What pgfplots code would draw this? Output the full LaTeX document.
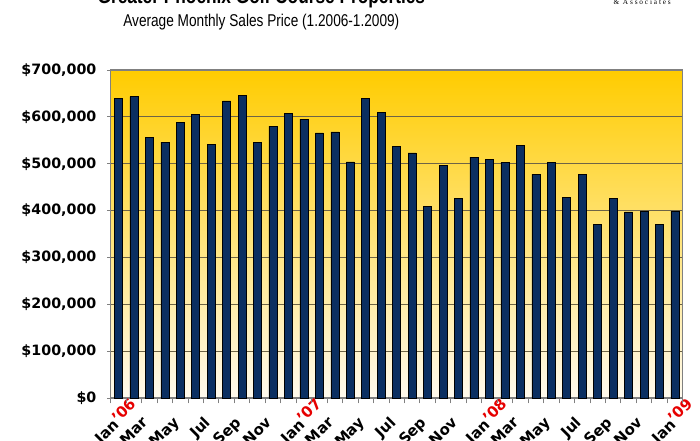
\documentclass[border=0pt]{standalone}
\usepackage{fontspec}
\setmainfont{DejaVu Sans}
\newfontfamily\narrowfont[FakeStretch=0.8]{Liberation Sans}
\newfontfamily\logofont[LetterSpace=25]{Liberation Serif}
\usepackage{pgfplots}
\usepackage{pgfplotstable}
\pgfplotsset{compat=1.18}
\definecolor{barnavy}{RGB}{11,47,97}
\definecolor{bgtop}{RGB}{255,204,0}
\definecolor{bgbot}{RGB}{255,250,238}
\definecolor{gridc}{RGB}{110,100,70}
\definecolor{axisgray}{RGB}{128,128,128}
\definecolor{yrred}{RGB}{230,0,0}

\pgfplotstableread{
x y
0 640000
1 643000
2 557000
3 546000
4 588000
5 605000
6 541000
7 634000
8 646000
9 546000
10 580000
11 608000
12 595000
13 566000
14 568000
15 504000
16 639000
17 610000
18 537000
19 523000
20 409000
21 496000
22 426000
23 514000
24 510000
25 503000
26 539000
27 477000
28 503000
29 428000
30 477000
31 371000
32 426000
33 397000
34 399000
35 371000
36 399000
}\pricedata

\newcommand{\yr}[1]{\rlap{\textcolor{yrred}{\raisebox{0.35ex}{'#1}}}}

\begin{document}
\begin{tikzpicture}[x=1pt,y=1pt]
\useasboundingbox (0,0) rectangle (525,330);
\begin{axis}[
  at={(83pt,31.5pt)}, anchor=south west,
  scale only axis, width=429pt, height=246pt,
  xmin=-0.5, xmax=36.5, ymin=0, ymax=700000,
  ytick={0,100000,200000,300000,400000,500000,600000,700000},
  yticklabels={{\$0},{\$100,000},{\$200,000},{\$300,000},{\$400,000},{\$500,000},{\$600,000},{\$700,000}},
  scaled y ticks=false,
  ymajorgrids,
  major grid style={gridc, line width=0.6pt},
  axis background/.style={shade, top color=bgtop, bottom color=bgbot},
  axis line style={axisgray, line width=0.8pt},
  tick style={axisgray, line width=0.6pt},
  tick align=outside,
  tick pos=left,
  major tick length=2.5pt,
  xtick={0,2,...,36},
  xticklabels={Jan\yr{06},Mar,May,Jul,Sep,Nov,Jan\yr{07},Mar,May,Jul,Sep,Nov,Jan\yr{08},Mar,May,Jul,Sep,Nov,Jan\yr{09}},
  xtick style={draw=none},
  extra x ticks={-0.5,0.5,...,36.5},
  extra x tick labels={},
  extra x tick style={grid=none, major tick length=4pt, xtick style={draw=axisgray, line width=0.6pt}},
  yticklabel style={font=\bfseries\fontsize{10.7}{12}\selectfont, inner sep=0pt, xshift=-8pt},
  xticklabel style={font=\bfseries\fontsize{11.2}{13}\selectfont, xshift=-6pt, yshift=-10.5pt, rotate=45, anchor=north east, inner sep=0pt},
]
\addplot[ybar, bar width=6pt, fill=barnavy, draw=black, line width=0.4pt] table[x=x,y=y]{\pricedata};
\end{axis}
\node[anchor=base, font=\narrowfont\bfseries\fontsize{16.2}{18}\selectfont] at (196,327) {Greater Phoenix Golf Course Properties};
\node[anchor=base, font=\narrowfont\fontsize{12.8}{15}\selectfont] at (196,310) {Average Monthly Sales Price (1.2006-1.2009)};
\node[anchor=base west, inner sep=0pt, font=\logofont\fontsize{5.5}{6}\selectfont] at (460,326.5) {\& Associates};
\end{tikzpicture}
\end{document}
